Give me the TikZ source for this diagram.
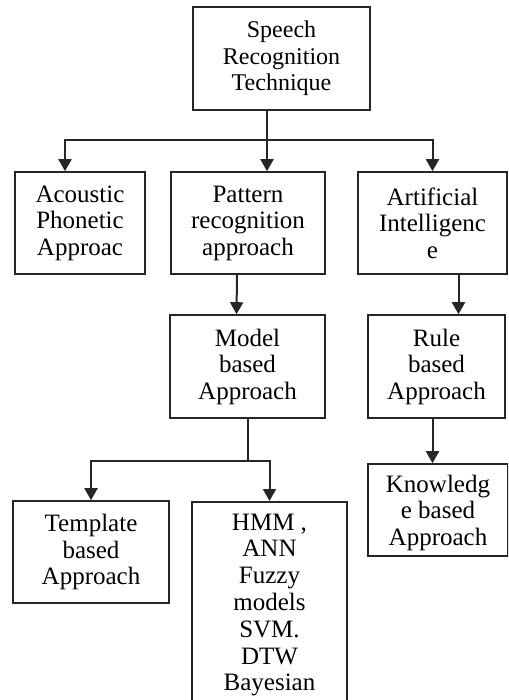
\documentclass[tikz,border=0pt]{standalone}
\usepackage{fontspec}
\setmainfont{Liberation Serif}
\usetikzlibrary{arrows.meta}

\begin{document}
\begin{tikzpicture}[x=1pt, y=-1pt]
                    \tikzstyle{box} = [draw=black!85, line width=1.6pt, align=center, inner sep=0pt, font=\fontsize{25}{26.5}\selectfont]
                    \tikzstyle{link} = [draw=black!85, line width=2pt]
                    \tikzstyle{arrow} = [link, -{Triangle[width=13pt, length=12pt]}]
                    \useasboundingbox (0,0) rectangle (508,700);
                    \clip (0,0) rectangle (508,700);

                    \node[box, minimum width=177pt, minimum height=103pt, font=\fontsize{24}{26.5}\selectfont] (speech) at (281.5,58.5) {Speech\\Recognition\\Technique};

                    \node[box, minimum width=130pt, minimum height=102pt] (acoustic) at (80,223) {Acoustic\\Phonetic\\Approac};
                    \node[box, minimum width=154pt, minimum height=102pt] (pattern) at (248,223) {Pattern\\recognition\\approach};
                    \node[box, minimum width=149pt, minimum height=102pt] (ai) at (432.5,223) {Artificial\\Intelligenc\\e};

                    \node[box, minimum width=155pt, minimum height=103pt] (model) at (247.5,366.5) {Model\\based\\Approach};
                    \node[box, minimum width=137pt, minimum height=103pt] (rule) at (436.5,366.5) {Rule\\based\\Approach};

                    \node[box, minimum width=156pt, minimum height=102pt] (template) at (91,552) {Template\\based\\Approach};
                    \node[box, anchor=north, minimum width=155pt, inner ysep=12pt, text depth=40pt, font=\fontsize{25}{26.8}\selectfont] (hmm) at (269.5,501) {HMM ,\\ANN\\Fuzzy\\models\\SVM.\\DTW\\Bayesian};
                    \node[box, minimum width=140pt, minimum height=92pt, text depth=-5pt] (knowledge) at (438,510) {Knowledg\\e based\\Approach};

                    \coordinate (split) at (267,140);
                    \draw[link] (speech.south -| split) -- (split);
                    \draw[arrow] (split) -| ([xshift=-15pt]acoustic.north);
                    \draw[arrow] (split) -- (split |- pattern.north);
                    \draw[arrow] (split) -| (ai.north);

                    \draw[arrow] ([xshift=-11pt]pattern.south) -- ([xshift=-11pt]model.north);
                    \coordinate (airule) at ([xshift=22pt]rule.north);
                    \draw[arrow] (ai.south -| airule) -- (airule);

                    \draw[link] (model.south) -- ++(0,42) coordinate (split2);
                    \draw[arrow] (split2) -| (template.north);
                    \draw[arrow] (split2) -| (hmm.north);

                    \coordinate (ruleknow) at ([xshift=-4pt]rule.south);
                    \draw[arrow] (ruleknow) -- (ruleknow |- knowledge.north);
\end{tikzpicture}
\end{document}
